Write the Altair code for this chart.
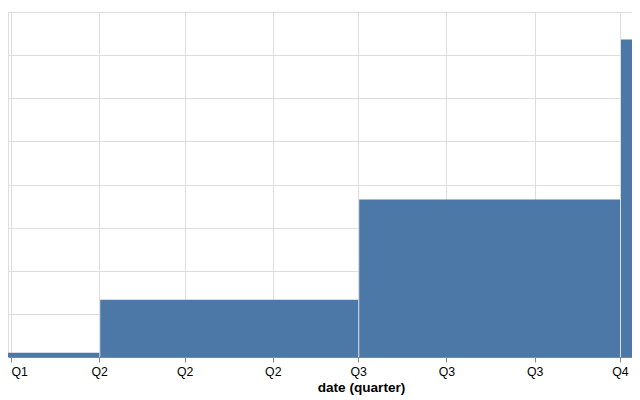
import altair as alt
import pandas as pd

# quarterly data (2012)
dates = ["2012-02-15", "2012-05-15", "2012-08-15", "2012-11-15"]
values = [1.0, 13.3, 36.5, 73.6]

df = pd.DataFrame({"date": dates, "value": values})

x_domain = [
    alt.DateTime(year=2012, month=2, date=28, hours=22, minutes=42),
    alt.DateTime(year=2012, month=10, date=5, hours=5, minutes=12),
]

chart = (
    alt.Chart(df)
    .mark_bar(clip=True, color="#4c78a8")
    .encode(
        x=alt.X(
            "yearquarter(date):T",
            title="date (quarter)",
            scale=alt.Scale(domain=x_domain),
            axis=alt.Axis(tickCount="month", format="Q%q", formatType="time",
                          titleX=353, labelFlush=6,
                          labelFont="Liberation Sans", labelFontSize=12.3,
                          titleFont="Liberation Sans", titleFontSize=13.6,
                          tickSize=5, labelPadding=3, titlePadding=3),
        ),
        y=alt.Y(
            "value:Q",
            scale=alt.Scale(domain=[0, 80]),
            axis=alt.Axis(labels=False, ticks=False, domain=False, title=None,
                          values=[0, 10, 20, 30, 40, 50, 60, 70, 80]),
        ),
    )
    .properties(width=624, height=345,
                autosize=alt.AutoSizeParams(type="none"),
                padding={"left": 0, "top": 4, "right": 0, "bottom": 40})
)

chart.save("out.html", embed_options={"renderer": "svg", "actions": False})
